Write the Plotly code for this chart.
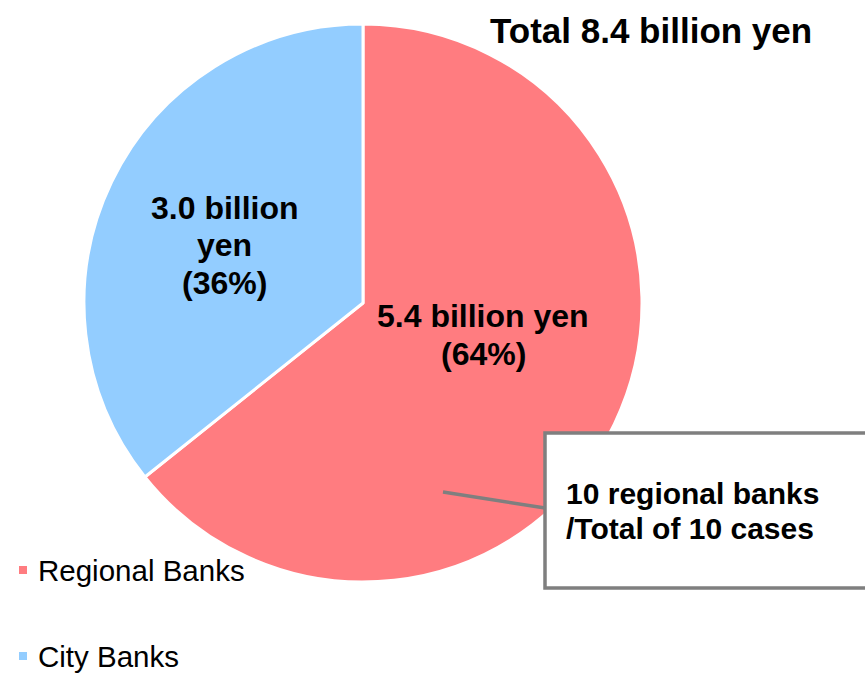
import plotly.graph_objects as go

W, H = 865, 677

# Data
labels = ["Regional Banks", "City Banks"]
values = [5.4, 3.0]          # billion yen
colors = ["#FF7C80", "#93CDFF"]
total_label = "Total 8.4 billion yen"
note_lines = ["10 regional banks", "/Total of 10 cases"]

total = sum(values)


def px(x):
    return x / W


def py(y):
    return 1 - y / H


FONT = "Arial, 'Liberation Sans', sans-serif"

fig = go.Figure()
fig.add_trace(go.Pie(
    labels=labels,
    values=values,
    sort=False,
    direction="clockwise",
    rotation=0,
    marker=dict(colors=colors, line=dict(color="white", width=3)),
    textinfo="none",
    hoverinfo="label+value+percent",
    showlegend=False,
    domain=dict(x=[px(84), px(642)], y=[py(582), py(24)]),
))

annotations = []


def text_block(lines, cx, cy, spacing, size, anchor="center", bold=True):
    """Stack lines of text with a fixed pixel spacing around (cx, cy)."""
    n = len(lines)
    for i, line in enumerate(lines):
        ly = cy + (i - (n - 1) / 2) * spacing
        annotations.append(dict(
            x=px(cx), y=py(ly), xref="paper", yref="paper",
            xanchor=anchor, yanchor="middle",
            text=f"<b>{line}</b>" if bold else line,
            showarrow=False,
            font=dict(family=FONT, size=size, color="black"),
        ))


# Slice labels
label_pos = [(483, 335), (225, 245)]
label_breaks = [False, True]
for v, (lx, ly), br in zip(values, label_pos, label_breaks):
    pct = round(v / total * 100)
    if br:
        lines = [f"{v:.1f} billion", "yen", f"({pct}%)"]
    else:
        lines = [f"{v:.1f} billion yen", f"({pct}%)"]
    text_block(lines, lx, ly, 37.5, 32)

# Title
text_block([total_label], 488, 31, 0, 35, anchor="left")

# Callout text
text_block(note_lines, 564, 511, 35, 30, anchor="left")

shapes = [
    # callout leader line
    dict(type="line", xref="paper", yref="paper",
         x0=px(443), y0=py(492), x1=px(545), y1=py(508),
         line=dict(color="#7F7F7F", width=3.5), layer="above"),
    # callout box
    dict(type="rect", xref="paper", yref="paper",
         x0=px(545), y0=py(588), x1=px(880), y1=py(433),
         line=dict(color="#7F7F7F", width=3.5), fillcolor="white",
         layer="above"),
]

# Legend entries
legend_y = [570, 656]
for lab, col, ly in zip(labels, colors, legend_y):
    shapes.append(dict(type="rect", xref="paper", yref="paper",
                       x0=px(19), x1=px(27), y0=py(ly + 4), y1=py(ly - 4),
                       line=dict(width=0), fillcolor=col))
    text_block([lab], 36, ly, 0, 29.5, anchor="left", bold=False)

fig.update_layout(
    width=W, height=H,
    margin=dict(l=0, r=0, t=0, b=0),
    paper_bgcolor="white",
    plot_bgcolor="white",
    annotations=annotations,
    shapes=shapes,
)

fig.write_html("out.html")
